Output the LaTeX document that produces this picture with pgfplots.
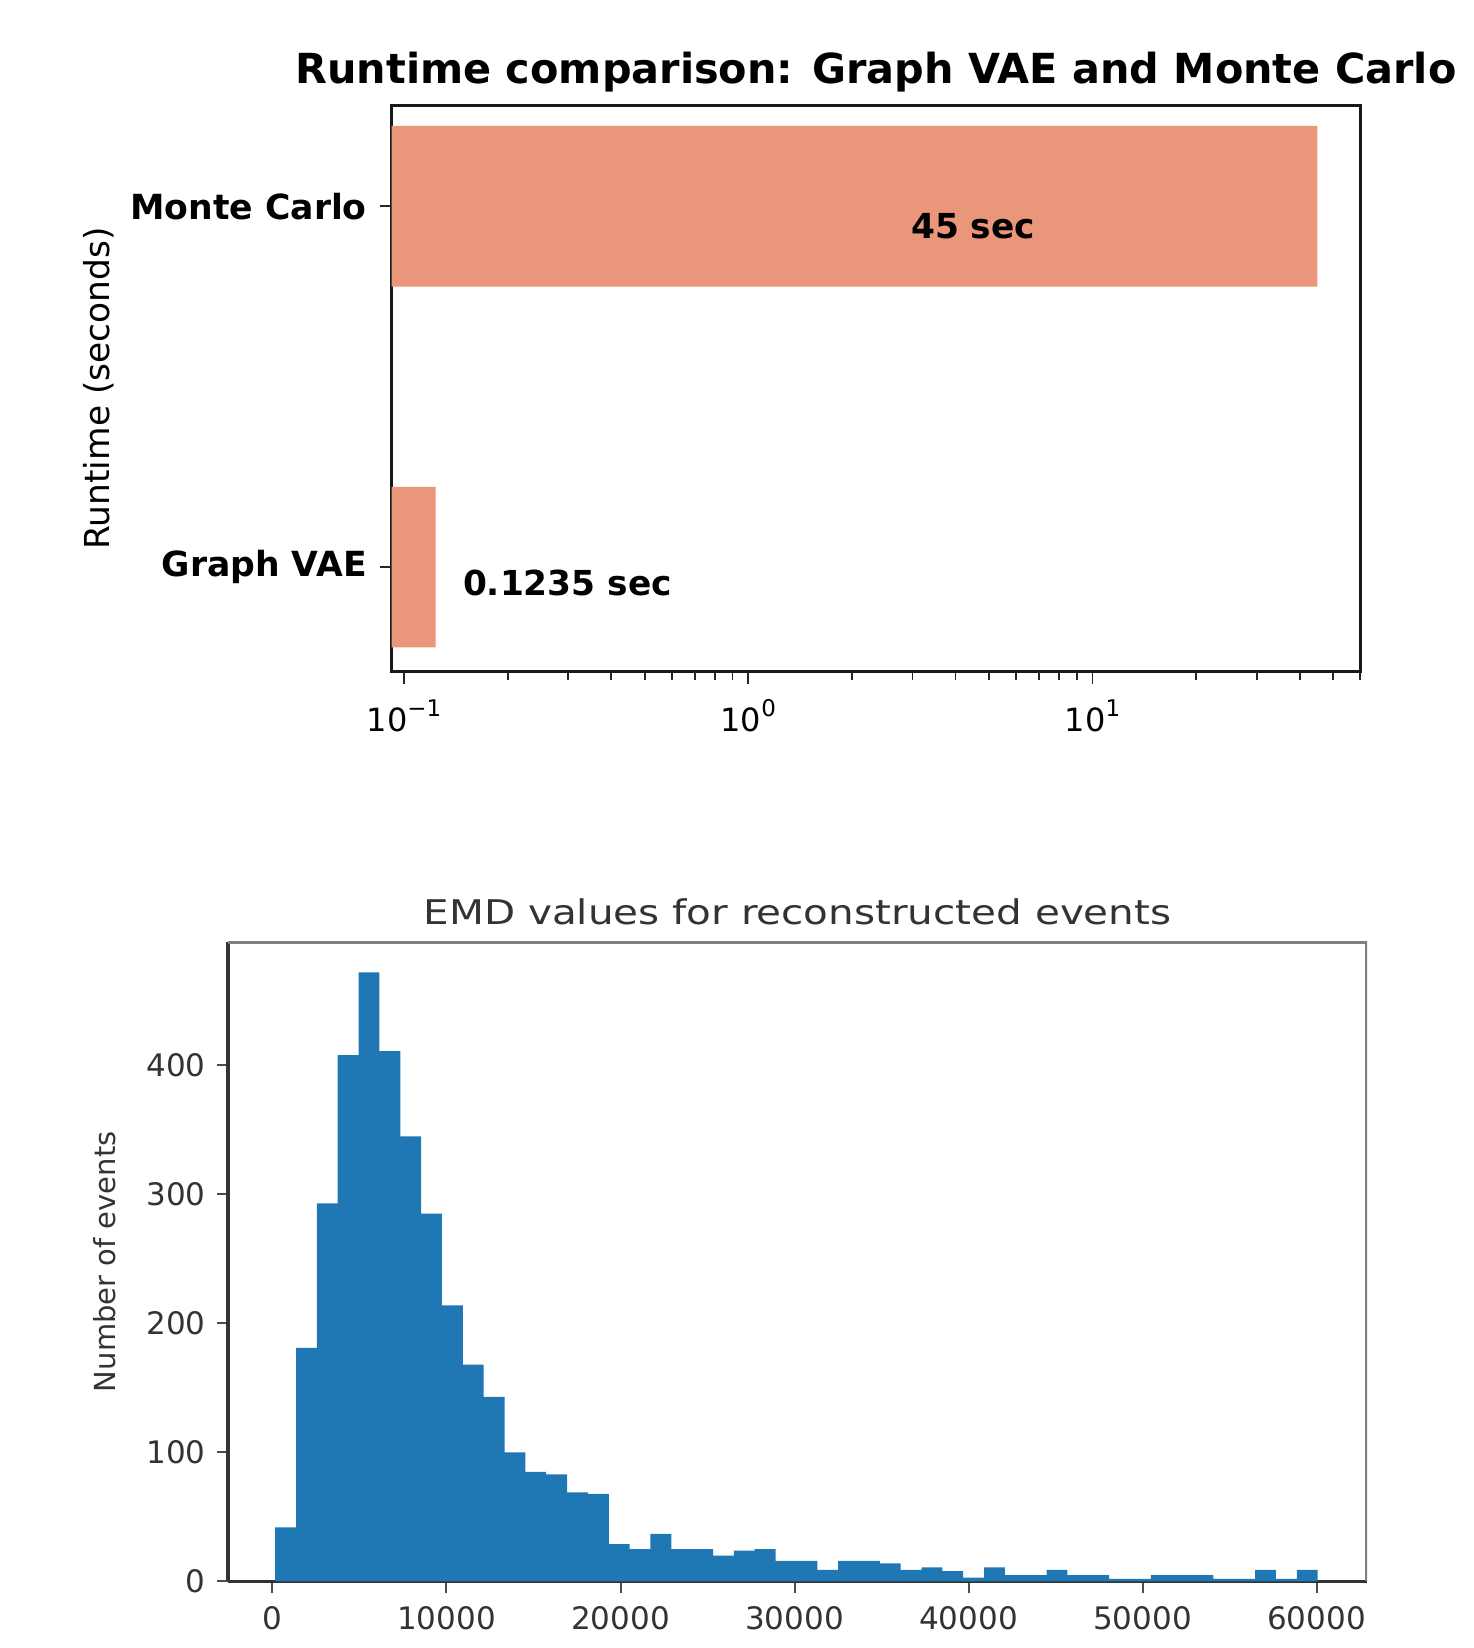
\documentclass[border=0pt]{standalone}
\usepackage{fontspec}
\setmainfont{DejaVu Sans}
\usepackage{graphicx}
\usepackage{pgfplots}
\pgfplotsset{compat=1.18}
\definecolor{salmonbar}{HTML}{E9967A}
\definecolor{histblue}{HTML}{1F77B4}
\newcommand\sups[1]{\raisebox{0.45em}{\fontsize{11.5}{12}\selectfont #1}}

\begin{document}
\begin{tikzpicture}
\begin{axis}[
  at={(195.85pt,488.1pt)}, anchor=south west,
  scale only axis, width=484.3pt, height=283.3pt,
  xmode=log, log origin x=infty,
  xmin=0.0921, xmax=60,
  ymin=-0.29, ymax=1.28,
  ytick={0,1}, yticklabels={Graph VAE, Monte Carlo},
  xtick={0.1,1,10}, xticklabels={10\sups{−1},10\sups{0},10\sups{1}},
  minor xtick={0.2,0.3,0.4,0.5,0.6,0.7,0.8,0.9,2,3,4,5,6,7,8,9,20,30,40,50,60},
  tick align=outside, tick pos=left,
  major tick length=6pt, minor tick length=4pt,
  every tick/.append style={black!85, line width=0.9pt},
  axis line style={black!90, line width=1.5pt},
  xticklabel style={font=\fontsize{16}{19}\selectfont, yshift=-4.5pt},
  yticklabel style={font=\fontsize{17.3}{20}\selectfont\bfseries, xshift=-3pt},
  title={\textbf{Runtime comparison: Graph VAE and Monte Carlo}},
  title style={font=\fontsize{20.7}{24}\selectfont, at={(axis description cs:0.5,1)}, anchor=base, yshift=4.6pt},
  ylabel={Runtime (seconds)},
  ylabel style={font=\fontsize{17.2}{20}\selectfont, at={(axis description cs:-0.303,0.5)}, anchor=center},
]
\addplot[xbar, bar width=0.445, fill=salmonbar, draw=none] coordinates {(0.1235,0) (45,1)};
\node[font=\fontsize{17.2}{20}\selectfont\bfseries] at (axis cs:4.5,0.945) {45 sec};
\node[font=\fontsize{17.2}{20}\selectfont\bfseries, anchor=west, inner sep=0pt] at (axis cs:0.148,-0.045) {0.1235 sec};
\end{axis}

\begin{axis}[
  at={(114pt,33.25pt)}, anchor=south west,
  scale only axis, width=569.5pt, height=319.75pt,
  xmin=-2557, xmax=62902, ymin=0, ymax=495.6,
  axis x line*=bottom, axis y line*=left,
  axis line style={-, black!80, line width=1.8pt},
  xtick={0,10000,20000,30000,40000,50000,60000}, ytick={0,100,200,300,400},
  scaled x ticks=false,
  /pgf/number format/1000 sep={},
  /pgf/number format/assume math mode=true,
  tick align=outside, major tick length=5.7pt,
  every tick/.append style={black!70, line width=1pt},
  ticklabel style={font=\fontsize{15.5}{18}\selectfont, text=black!80},
  xticklabel style={yshift=-3.5pt},
  yticklabel style={xshift=-2pt},
  title={\scalebox{1.19}[1]{EMD values for reconstructed events}},
  title style={font=\fontsize{17}{20}\selectfont, text=black!80, at={(axis description cs:0.5,1)}, anchor=base, yshift=2.5pt},
  xlabel={EMD},
  xlabel style={font=\fontsize{15.5}{18}\selectfont, text=black!80, at={(axis description cs:0.5,0)}, anchor=north, yshift=-31.75pt},
  ylabel={Number of events},
  ylabel style={font=\fontsize{14.5}{18}\selectfont, text=black!80, at={(axis description cs:-0.108,0.5)}, anchor=center},
]
\addplot[ybar interval, fill=histblue, draw=none] coordinates {
(155,42) (1353,181) (2551,293) (3750,408) (4948,472) (6146,411) (7344,345) (8542,285) (9741,214) (10939,168)
(12137,143) (13335,100) (14533,85) (15732,83) (16930,69) (18128,68) (19326,29) (20524,25) (21723,37) (22921,25)
(24119,25) (25317,20) (26515,24) (27714,25) (28912,16) (30110,16) (31308,9) (32506,16) (33705,16) (34903,14)
(36101,9) (37299,11) (38497,8) (39696,3) (40894,11) (42092,5) (43290,5) (44488,9) (45687,5) (46885,5)
(48083,2) (49281,2) (50479,5) (51678,5) (52876,5) (54074,2) (55272,2) (56470,9) (57669,2) (58867,9)
(60065,0)
};
\draw[black!50, line width=1.8pt] (rel axis cs:0,1) -- (rel axis cs:1,1) -- (rel axis cs:1,0);
\end{axis}

\pgfresetboundingbox
\useasboundingbox (0pt,0pt) rectangle (736.5pt,824pt);
\end{tikzpicture}
\end{document}
